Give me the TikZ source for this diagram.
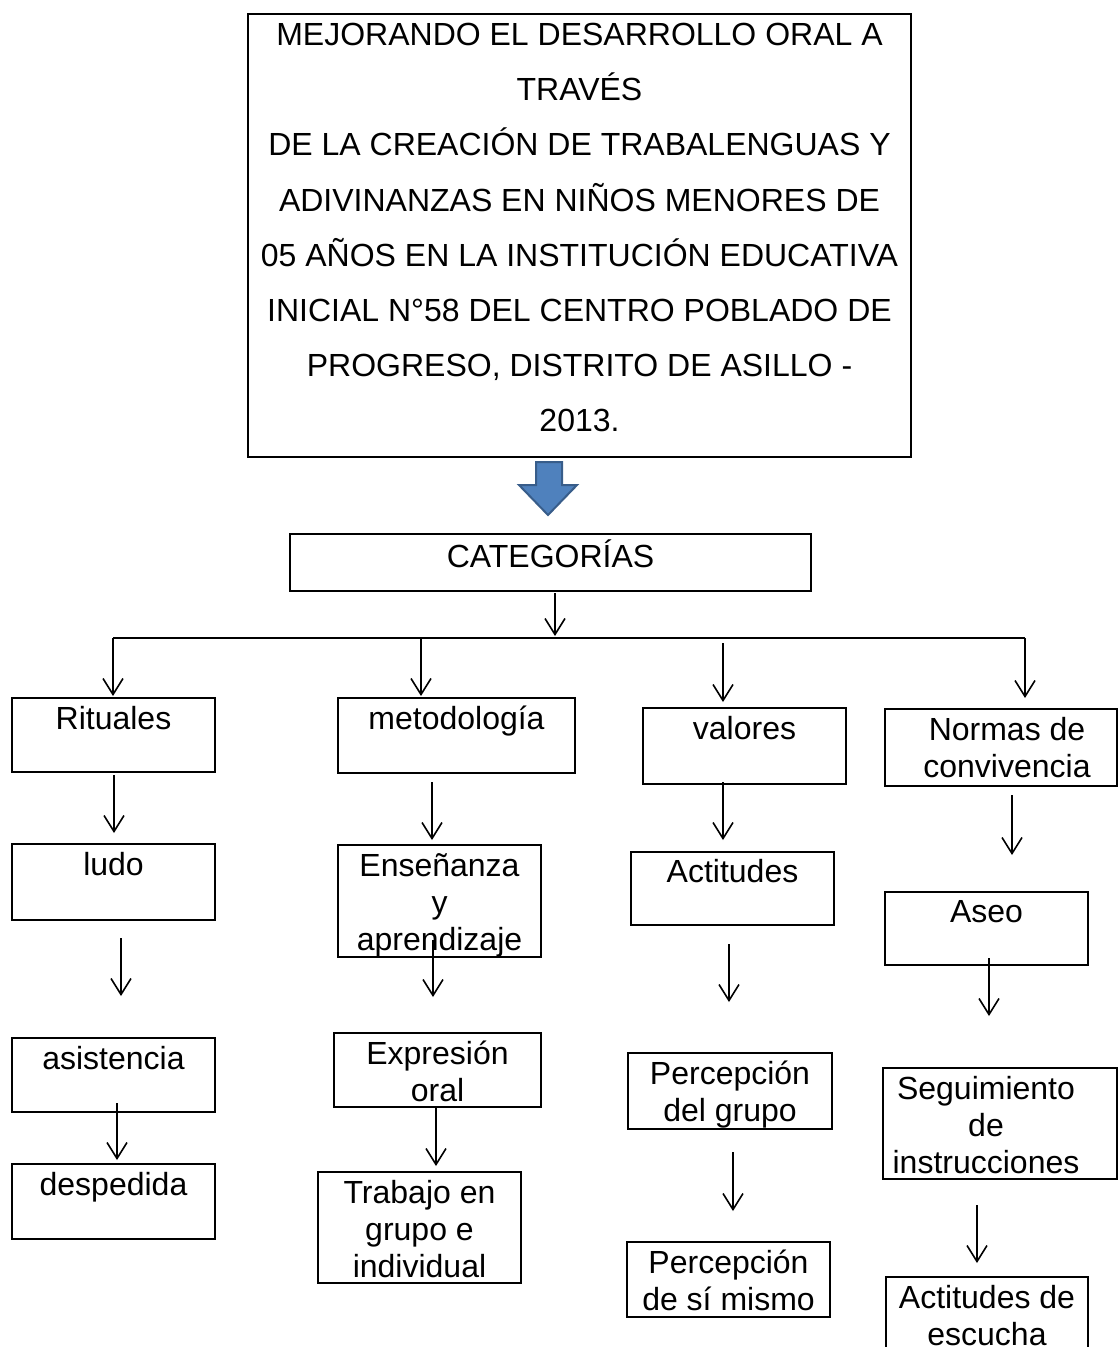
\documentclass[tikz,border=0pt]{standalone}
\usepackage{fontspec}
\setmainfont{Liberation Sans}
\usetikzlibrary{arrows.meta,fit}
\definecolor{blockfill}{HTML}{4F81BD}
\definecolor{blockline}{HTML}{385D8A}
\begin{document}
\begin{tikzpicture}[x=0.75pt,y=-0.75pt,
  boxst/.style={draw, line width=1.5pt, inner sep=0pt},
  txt/.style={anchor=north, align=center, inner sep=0pt, font=\fontsize{24pt}{27.75pt}\selectfont},
  titletxt/.style={anchor=north, align=center, inner sep=0pt, font=\fontsize{24pt}{41.3pt}\selectfont},
  arr/.style={line width=1.2pt, -{Straight Barb[length=12pt,width=15pt,line width=1.2pt]}},
  plainline/.style={line width=1.2pt}]
\useasboundingbox (0,0) rectangle (1118,1347);
\clip (0,0) rectangle (1118,1347);

% boxes
\node[boxst, fit={(248,14) (911,457)}] (title) {};
\node[boxst, fit={(290,534) (811,591)}] (cat) {};
\node[boxst, fit={(12,698) (215,772)}] (rit) {};
\node[boxst, fit={(338,698) (575,773)}] (met) {};
\node[boxst, fit={(643,708) (846,784)}] (val) {};
\node[boxst, fit={(885,709) (1117,786)}] (nor) {};
\node[boxst, fit={(12,844) (215,920)}] (ludo) {};
\node[boxst, fit={(338,845) (541,957)}] (ens) {};
\node[boxst, fit={(631,852) (834,925)}] (act) {};
\node[boxst, fit={(885,892) (1088,965)}] (aseo) {};
\node[boxst, fit={(12,1038) (215,1112)}] (asis) {};
\node[boxst, fit={(334,1033) (541,1107)}] (exp) {};
\node[boxst, fit={(628,1053) (832,1129)}] (perg) {};
\node[boxst, fit={(883,1068) (1117,1179)}] (seg) {};
\node[boxst, fit={(12,1164) (215,1239)}] (desp) {};
\node[boxst, fit={(318,1172) (521,1283)}] (trab) {};
\node[boxst, fit={(627,1242) (830,1317)}] (pers) {};
\node[boxst, fit={(886,1277) (1088,1360)}] (esc) {};

% texts
\node[titletxt] (title-t) at (579.5,7) {\strut MEJORANDO EL DESARROLLO ORAL A\\TRAVÉS\\DE LA CREACIÓN DE TRABALENGUAS Y\\ADIVINANZAS EN NIÑOS MENORES DE\\05 AÑOS EN LA INSTITUCIÓN EDUCATIVA\\INICIAL N°58 DEL CENTRO POBLADO DE\\PROGRESO, DISTRITO DE ASILLO -\\2013.};
\node[txt] (cat-t) at (550.5,539) {\strut CATEGORÍAS};
\node[txt] (rit-t) at (113.5,703) {\strut Rituales};
\node[txt] (met-t) at (456.5,703) {\strut metodología};
\node[txt] (val-t) at (744.5,713) {\strut valores};
\node[txt] (nor-t) at (1007,714) {\strut Normas de\\convivencia};
\node[txt] (ludo-t) at (113.5,849) {\strut ludo};
\node[txt] (ens-t) at (439.5,850) {\strut Enseñanza\\y\\aprendizaje};
\node[txt] (act-t) at (732.5,856) {\strut Actitudes};
\node[txt] (aseo-t) at (986.5,896) {\strut Aseo};
\node[txt] (asis-t) at (113.5,1043) {\strut asistencia};
\node[txt] (exp-t) at (437.5,1038) {\strut Expresión\\oral};
\node[txt] (perg-t) at (730,1058) {\strut Percepción\\del grupo};
\node[txt] (seg-t) at (986,1073) {\strut Seguimiento\\de\\instrucciones};
\node[txt] (desp-t) at (113.5,1169) {\strut despedida};
\node[txt] (trab-t) at (419.5,1177) {\strut Trabajo en\\grupo e\\individual};
\node[txt] (pers-t) at (728.5,1247) {\strut Percepción\\de sí mismo};
\node[txt] (esc-t) at (987,1282) {\strut Actitudes de\\escucha};

% block arrow
\draw[line width=1.5pt, draw=blockline, fill=blockfill, line join=miter]
  (536,462) -- (562,462) -- (562,485) -- (577,485) -- (548,515) -- (519,485) -- (536,485) -- cycle;

% connector coordinates
\coordinate (c1a) at (555,593);  \coordinate (c1b) at (555,636);
\coordinate (hl) at (113,638);   \coordinate (hr) at (1025,638);
\coordinate (d1b) at (113,696);
\coordinate (d2a) at (421,638);  \coordinate (d2b) at (421,696);
\coordinate (d3a) at (723,643);  \coordinate (d3b) at (723,702);
\coordinate (d4b) at (1025,698);
\coordinate (a6a) at (114,775);  \coordinate (a6b) at (114,833);
\coordinate (a7a) at (121,938);  \coordinate (a7b) at (121,996);
\coordinate (a8a) at (117,1103); \coordinate (a8b) at (117,1160);
\coordinate (a9a) at (432,782);  \coordinate (a9b) at (432,840);
\coordinate (a10a) at (433,940); \coordinate (a10b) at (433,997);
\coordinate (a11a) at (436,1108);\coordinate (a11b) at (436,1166);
\coordinate (a12a) at (723,782); \coordinate (a12b) at (723,840);
\coordinate (a13a) at (729,944); \coordinate (a13b) at (729,1002);
\coordinate (a14a) at (733,1152);\coordinate (a14b) at (733,1211);
\coordinate (a15a) at (1012,795);\coordinate (a15b) at (1012,855);
\coordinate (a16a) at (989,958); \coordinate (a16b) at (989,1016);
\coordinate (a17a) at (977,1205);\coordinate (a17b) at (977,1263);

% connectors
\draw[arr] (c1a) -- (c1b);
\draw[plainline] (hl) -- (hr);
\draw[arr] (hl) -- (d1b);
\draw[arr] (d2a) -- (d2b);
\draw[arr] (d3a) -- (d3b);
\draw[arr] (hr) -- (d4b);
\draw[arr] (a6a) -- (a6b);
\draw[arr] (a7a) -- (a7b);
\draw[arr] (a8a) -- (a8b);
\draw[arr] (a9a) -- (a9b);
\draw[arr] (a10a) -- (a10b);
\draw[arr] (a11a) -- (a11b);
\draw[arr] (a12a) -- (a12b);
\draw[arr] (a13a) -- (a13b);
\draw[arr] (a14a) -- (a14b);
\draw[arr] (a15a) -- (a15b);
\draw[arr] (a16a) -- (a16b);
\draw[arr] (a17a) -- (a17b);
\end{tikzpicture}
\end{document}
